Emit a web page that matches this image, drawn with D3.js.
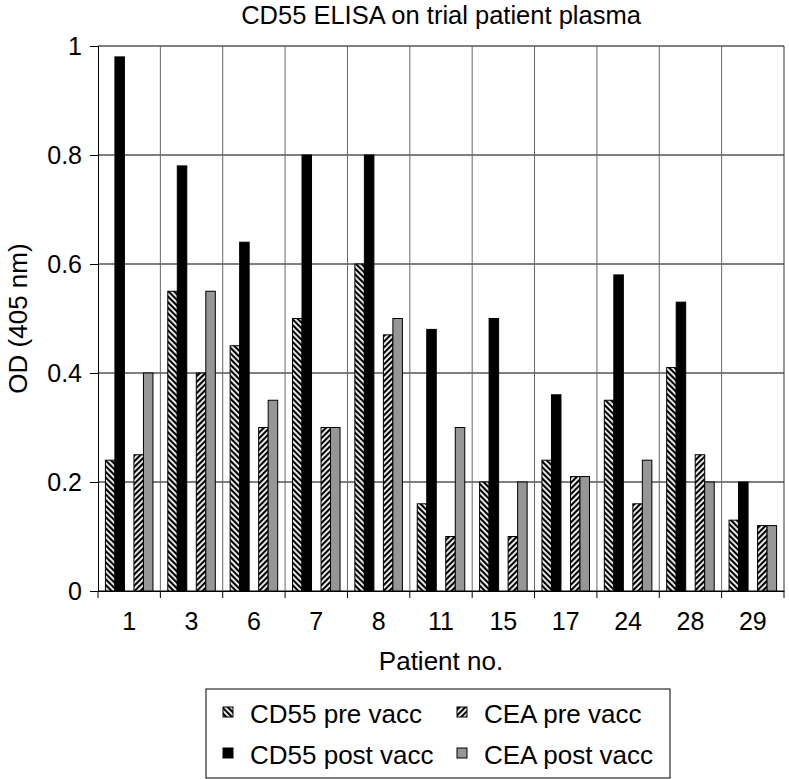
<!DOCTYPE html>
<html><head><meta charset="utf-8">
<script src="https://cdn.jsdelivr.net/npm/d3@7"></script>
<style>body{margin:0;background:#fff}svg{display:block}text{font-family:"Liberation Sans",Arial,Helvetica,sans-serif;fill:#000}</style>
</head><body><svg id="c" width="789" height="779"></svg>
<script>
const patients = ["1","3","6","7","8","11","15","17","24","28","29"];
const cd55Pre  = [0.24,0.55,0.45,0.50,0.60,0.16,0.20,0.24,0.35,0.41,0.13];
const cd55Post = [0.98,0.78,0.64,0.80,0.80,0.48,0.50,0.36,0.58,0.53,0.20];
const ceaPre   = [0.25,0.40,0.30,0.30,0.47,0.10,0.10,0.21,0.16,0.25,0.12];
const ceaPost  = [0.40,0.55,0.35,0.30,0.50,0.30,0.20,0.21,0.24,0.20,0.12];
const yTicks = [0,0.2,0.4,0.6,0.8,1];
const seriesNames = ["CD55 pre vacc","CD55 post vacc","CEA pre vacc","CEA post vacc"];
const slots = ["CD55 pre vacc","CD55 post vacc","gap","CEA pre vacc","CEA post vacc"];

const svg = d3.select("#c");
const L=98,R=784,T=46,B=591;
const x = d3.scaleBand().domain(patients).range([L,R]).padding(0);
const xi = d3.scaleBand().domain(slots).range([0,x.bandwidth()]).paddingInner(0).paddingOuter(0.78);
const y = d3.scaleLinear().domain([0,1]).range([B,T]);

const defs = svg.append("defs");
function hatch(id, angle){
  const p = defs.append("pattern").attr("id",id).attr("patternUnits","userSpaceOnUse")
    .attr("width",4).attr("height",4).attr("patternTransform",`rotate(${angle})`);
  p.append("rect").attr("width",4).attr("height",4).attr("fill","#fff");
  p.append("rect").attr("width",2.2).attr("height",4).attr("fill","#000");
}
hatch("hb",-45); hatch("hf",45);
const fills = {"CD55 pre vacc":"url(#hb)","CD55 post vacc":"#000","CEA pre vacc":"url(#hf)","CEA post vacc":"#969696"};
const values = {"CD55 pre vacc":cd55Pre,"CD55 post vacc":cd55Post,"CEA pre vacc":ceaPre,"CEA post vacc":ceaPost};

// horizontal gridlines
svg.append("g").selectAll("line").data(yTicks).join("line")
  .attr("x1",L).attr("x2",R).attr("y1",d=>y(d)).attr("y2",d=>y(d))
  .attr("stroke","#000").attr("stroke-width",1);
// vertical gridlines
svg.append("g").selectAll("line").data(patients.slice(1)).join("line")
  .attr("x1",d=>x(d)).attr("x2",d=>x(d)).attr("y1",T).attr("y2",B)
  .attr("stroke","#666").attr("stroke-width",1);
// frame right
svg.append("line").attr("x1",R).attr("x2",R).attr("y1",T).attr("y2",B).attr("stroke","#333");

// bars
seriesNames.forEach(s=>{
  svg.append("g").selectAll("rect").data(values[s]).join("rect")
    .attr("x",(d,i)=>x(patients[i])+xi(s))
    .attr("width",xi.bandwidth())
    .attr("y",d=>y(d)).attr("height",d=>B-y(d))
    .attr("fill",fills[s]).attr("stroke","#000").attr("stroke-width",1);
});

// y axis
const ya = svg.append("g").attr("transform",`translate(${L},0)`)
  .call(d3.axisLeft(y).tickValues(yTicks).tickFormat(d3.format("")).tickSize(8).tickPadding(8));
ya.select(".domain").attr("stroke","#000");
ya.selectAll("text").style("font-size","25px");
// x axis
const xa = svg.append("g").attr("transform",`translate(0,${B})`)
  .call(d3.axisBottom(x).tickSize(0).tickPadding(21));
xa.select(".domain").attr("stroke","#000");
xa.selectAll("text").style("font-size","25px");
svg.append("g").selectAll("line").data(patients.concat(["end"])).join("line")
  .attr("x1",(d,i)=>i<patients.length?x(d):R).attr("x2",(d,i)=>i<patients.length?x(d):R)
  .attr("y1",B).attr("y2",B+7).attr("stroke","#000");

// titles
svg.append("text").attr("x",(L+R)/2).attr("y",24).attr("text-anchor","middle").style("font-size","25.5px").text("CD55 ELISA on trial patient plasma");
svg.append("text").attr("x",(L+R)/2).attr("y",670).attr("text-anchor","middle").style("font-size","26px").text("Patient no.");
svg.append("text").attr("transform",`translate(27,${(T+B)/2}) rotate(-90)`).attr("text-anchor","middle").style("font-size","26px").text("OD (405 nm)");

// legend
svg.append("rect").attr("x",206).attr("y",689).attr("width",464).attr("height",89).attr("fill","#fff").attr("stroke","#000");
const legPos = [[223,707],[223,748],[457,707],[457,748]];
seriesNames.forEach((s,i)=>{
  const [lx,ly]=legPos[i];
  svg.append("rect").attr("x",lx).attr("y",ly).attr("width",10).attr("height",10).attr("fill",fills[s]).attr("stroke","#000");
  svg.append("text").attr("x",lx+27).attr("y",ly+16).style("font-size","26px").text(s);
});
</script></body></html>
